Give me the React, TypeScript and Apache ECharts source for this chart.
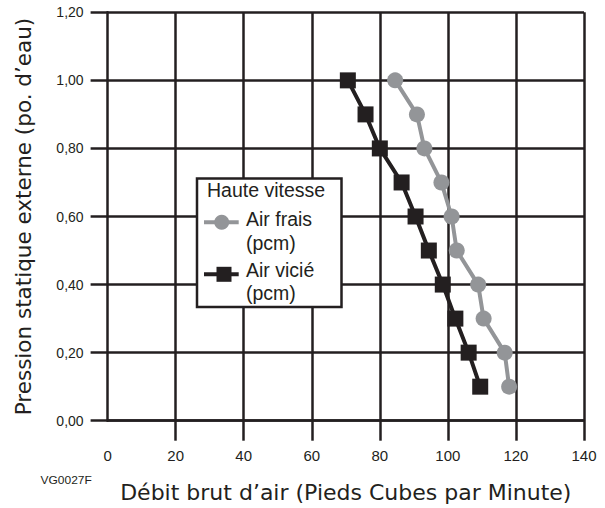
import React, { useEffect, useRef } from "react";
import * as echarts from "echarts";

const INK = "#231f20";
const GRAY = "#939598";

const xTicks = [0, 20, 40, 60, 80, 100, 120, 140];
const yTicks = [0, 0.2, 0.4, 0.6, 0.8, 1.0, 1.2];

const pressure = [1.0, 0.9, 0.8, 0.7, 0.6, 0.5, 0.4, 0.3, 0.2, 0.1];
const airFrais = [84.5, 90.9, 93.1, 98.1, 101.1, 102.6, 108.9, 110.5, 116.7, 118.0];
const airVicie = [70.6, 75.8, 80.0, 86.4, 90.5, 94.4, 98.5, 102.2, 106.1, 109.5];

const legendTitle = "Haute vitesse";
const seriesNames = ["Air frais", "Air vicié"];
const unitLabel = "(pcm)";
const xName = "Débit brut d\u2019air (Pieds Cubes par Minute)";
const yName = "Pression statique externe (po. d\u2019eau)";
const figCode = "VG0027F";

export default function App() {
  const ref = useRef<HTMLDivElement>(null);
  useEffect(() => {
    if (!ref.current) return;
    const chart = echarts.init(ref.current, null, { renderer: "svg" });
    const pts = (xs: number[]) => xs.map((x, i) => [x, pressure[i]]);
    const font = "Liberation Sans, Arial, sans-serif";
    const legFs = 19.5;
    const option: any = {
      animation: false,
      backgroundColor: "#ffffff",
      grid: {
        left: 107.6,
        right: 21,
        top: 12.3,
        bottom: 87.3,
        containLabel: false,
        outerBoundsMode: "none",
      },
      xAxis: {
        type: "value",
        min: xTicks[0],
        max: xTicks[xTicks.length - 1],
        interval: 20,
        name: xName,
        nameLocation: "middle",
        nameGap: 61,
        nameTextStyle: { fontFamily: "DejaVu Sans", fontSize: 22, color: INK },
        axisLine: { show: true, lineStyle: { color: INK, width: 2.5 } },
        axisTick: {
          show: true,
          length: 20,
          inside: false,
          customValues: xTicks.slice(1),
          lineStyle: { color: INK, width: 2.5 },
        },
        axisLabel: { margin: 27, fontFamily: font, fontSize: 15, color: INK },
        splitLine: { show: true, lineStyle: { color: INK, width: 2.5 } },
      },
      yAxis: {
        type: "value",
        min: yTicks[0],
        max: yTicks[yTicks.length - 1],
        interval: 0.2,
        name: yName,
        nameLocation: "middle",
        nameGap: 73,
        nameRotate: 90,
        nameTextStyle: { fontFamily: "DejaVu Sans", fontSize: 21.5, color: INK },
        axisLine: { show: true, lineStyle: { color: INK, width: 2.5 } },
        axisTick: { show: true, length: 17, lineStyle: { color: INK, width: 2.5 } },
        axisLabel: {
          margin: 24,
          fontFamily: font,
          fontSize: 14,
          color: INK,
          formatter: (v: number) => v.toFixed(2).replace(".", ","),
        },
        splitLine: { show: true, lineStyle: { color: INK, width: 2.5 } },
      },
      series: [
        {
          name: seriesNames[0],
          type: "line",
          data: pts(airFrais),
          symbol: "circle",
          symbolSize: 16,
          lineStyle: { color: GRAY, width: 4 },
          itemStyle: { color: GRAY },
          z: 3,
        },
        {
          name: seriesNames[1],
          type: "line",
          data: pts(airVicie),
          symbol: "rect",
          symbolSize: 16,
          lineStyle: { color: INK, width: 4 },
          itemStyle: { color: INK },
          z: 4,
        },
      ],
      graphic: [
        {
          type: "rect",
          shape: { x: 197, y: 178.5, width: 144.5, height: 128.5 },
          style: { fill: "#ffffff", stroke: INK, lineWidth: 2.5 },
          z: 10,
        },
        {
          type: "text",
          x: 207,
          y: 190,
          style: { text: legendTitle, fontFamily: font, fontSize: legFs, fill: INK, textAlign: "left", verticalAlign: "middle" },
          z: 11,
        },
        { type: "line", shape: { x1: 204, y1: 222.3, x2: 238.7, y2: 222.3 }, style: { stroke: GRAY, lineWidth: 4 }, z: 11 },
        { type: "circle", shape: { cx: 221.7, cy: 222.3, r: 7.5 }, style: { fill: GRAY }, z: 12 },
        {
          type: "text",
          x: 246,
          y: 219.2,
          style: { text: seriesNames[0], fontFamily: font, fontSize: legFs, fill: INK, textAlign: "left", verticalAlign: "middle" },
          z: 11,
        },
        {
          type: "text",
          x: 246,
          y: 242.5,
          style: { text: unitLabel, fontFamily: font, fontSize: legFs, fill: INK, textAlign: "left", verticalAlign: "middle" },
          z: 11,
        },
        { type: "line", shape: { x1: 204, y1: 274.3, x2: 238.7, y2: 274.3 }, style: { stroke: INK, lineWidth: 4 }, z: 11 },
        { type: "rect", shape: { x: 216.5, y: 266.8, width: 15, height: 15 }, style: { fill: INK }, z: 12 },
        {
          type: "text",
          x: 246,
          y: 269.9,
          style: { text: seriesNames[1], fontFamily: font, fontSize: legFs, fill: INK, textAlign: "left", verticalAlign: "middle" },
          z: 11,
        },
        {
          type: "text",
          x: 246,
          y: 293.2,
          style: { text: unitLabel, fontFamily: font, fontSize: legFs, fill: INK, textAlign: "left", verticalAlign: "middle" },
          z: 11,
        },
        {
          type: "text",
          x: 40.5,
          y: 480.7,
          scaleX: 1.2,
          style: { text: figCode, fontFamily: font, fontSize: 10, fill: INK, textAlign: "left", verticalAlign: "middle" },
          z: 11,
        },
      ],
    };
    chart.setOption(option);
    return () => chart.dispose();
  }, []);
  return (
    <div
      ref={ref}
      style={{ position: "absolute", left: 0, top: 0, width: 605, height: 508, background: "#fff" }}
    />
  );
}
